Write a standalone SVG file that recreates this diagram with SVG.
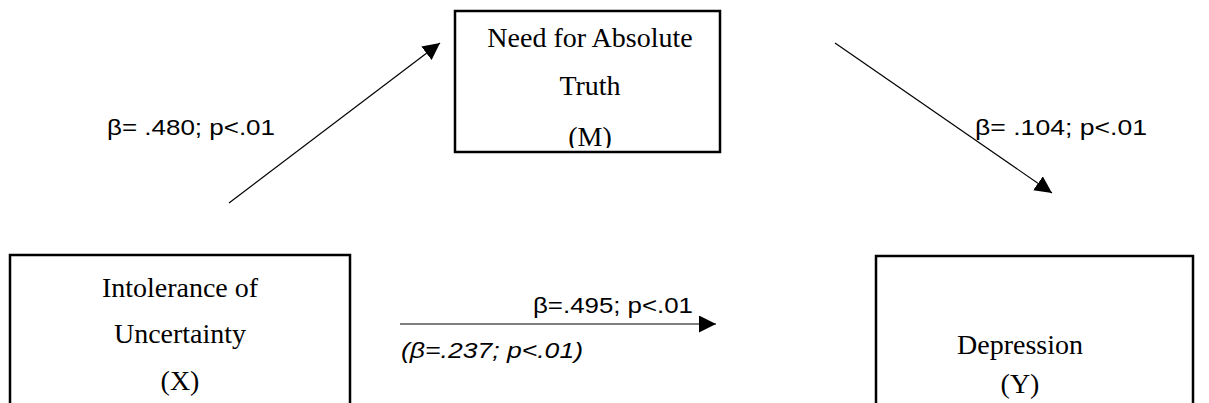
<svg xmlns="http://www.w3.org/2000/svg" width="1209" height="403" viewBox="0 0 1209 403">
<style>
.box{fill:#fff;stroke:#000;stroke-width:2.5}
.nt{font-family:"Liberation Serif","Times New Roman",serif;font-size:28px;fill:#000;text-anchor:middle}
.lb{font-family:"Liberation Sans",Arial,sans-serif;font-size:22px;fill:#000}
.ln{stroke:#000;stroke-width:1.2;fill:none}
</style>
<defs>
<marker id="ah" viewBox="0 0 10 10" refX="10" refY="5" markerWidth="17" markerHeight="17" markerUnits="userSpaceOnUse" orient="auto">
<path d="M0,0 L10,5 L0,10 z" fill="#000"/>
</marker>
<clipPath id="cm"><rect x="455" y="11" width="265" height="137"/></clipPath>
</defs>
<rect width="1209" height="403" fill="#fff"/>
<g id="node-m">
<rect class="box" x="455" y="11" width="265" height="141"/>
<g clip-path="url(#cm)">
<text class="nt" x="590" y="47">Need for Absolute</text>
<text class="nt" x="590" y="95">Truth</text>
<text class="nt" x="590" y="146">(M)</text>
</g>
</g>
<g id="node-x">
<rect class="box" x="10" y="255" width="340" height="170"/>
<text class="nt" x="180" y="297">Intolerance of</text>
<text class="nt" x="180" y="343">Uncertainty</text>
<text class="nt" x="180" y="390">(X)</text>
</g>
<g id="node-y">
<rect class="box" x="876" y="256" width="317" height="170"/>
<text class="nt" x="1020" y="354">Depression</text>
<text class="nt" x="1020" y="393">(Y)</text>
</g>
<g id="connectors">
<line class="ln" x1="229" y1="203" x2="440" y2="43" marker-end="url(#ah)"/>
<line class="ln" x1="835" y1="43" x2="1052" y2="193" marker-end="url(#ah)"/>
<line class="ln" x1="400" y1="324" x2="716" y2="324" marker-end="url(#ah)"/>
</g>
<g id="labels">
<text class="lb" x="107" y="135" textLength="168" lengthAdjust="spacingAndGlyphs">β= .480; p&lt;.01</text>
<text class="lb" x="975" y="135" textLength="172" lengthAdjust="spacingAndGlyphs">β= .104; p&lt;.01</text>
<text class="lb" x="533" y="313" textLength="160" lengthAdjust="spacingAndGlyphs">β=.495; p&lt;.01</text>
<text class="lb" x="401" y="358" font-style="italic" textLength="182" lengthAdjust="spacingAndGlyphs">(β=.237; p&lt;.01)</text>
</g>
</svg>
